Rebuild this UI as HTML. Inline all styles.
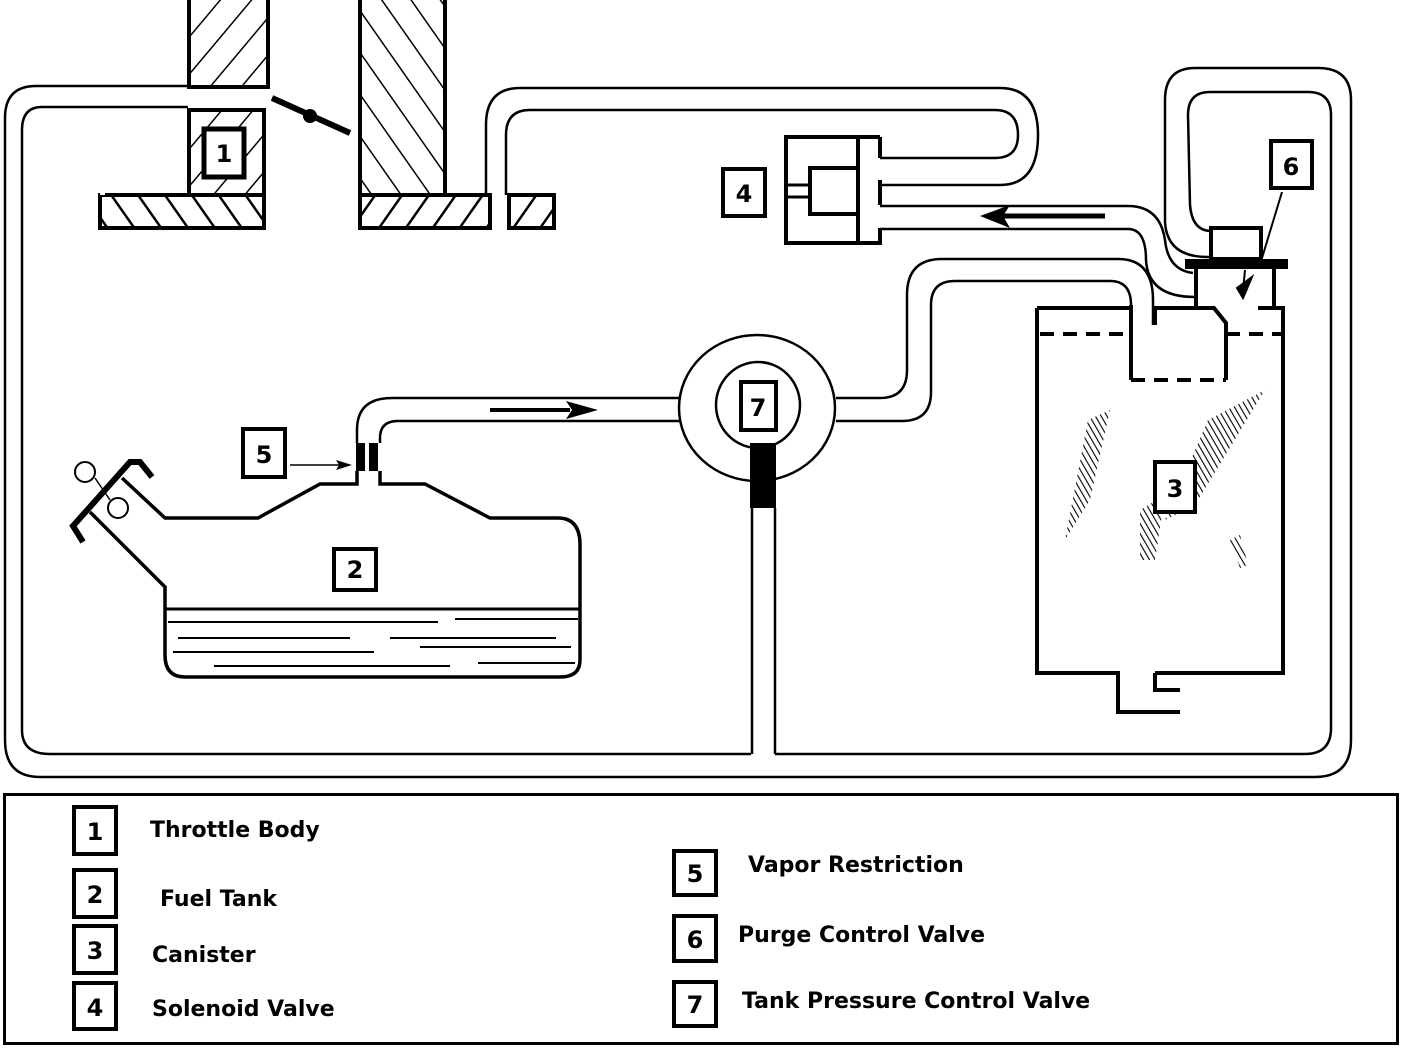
<!DOCTYPE html>
<html><head><meta charset="utf-8"><style>
html,body{margin:0;padding:0;background:#fff;}
svg{display:block;}
text{font-family:"DejaVu Sans","Liberation Sans",sans-serif;font-weight:bold;fill:#000;}
</style></head><body>
<svg width="1408" height="1048" viewBox="0 0 1408 1048" xmlns="http://www.w3.org/2000/svg">
<defs>
<pattern id="hf" patternUnits="userSpaceOnUse" width="24" height="24" patternTransform="rotate(40)">
<line x1="0" y1="0" x2="0" y2="24" stroke="#000" stroke-width="3"/></pattern>
<pattern id="hb" patternUnits="userSpaceOnUse" width="24" height="24" patternTransform="rotate(-35)">
<line x1="0" y1="0" x2="0" y2="24" stroke="#000" stroke-width="3"/></pattern>
<pattern id="hf2" patternUnits="userSpaceOnUse" width="22" height="22" patternTransform="rotate(35)">
<line x1="0" y1="0" x2="0" y2="22" stroke="#000" stroke-width="5"/></pattern>
<pattern id="hb2" patternUnits="userSpaceOnUse" width="22" height="22" patternTransform="rotate(-35)">
<line x1="0" y1="0" x2="0" y2="22" stroke="#000" stroke-width="5"/></pattern>
<pattern id="hc" patternUnits="userSpaceOnUse" width="5" height="5" patternTransform="rotate(-30)">
<line x1="0" y1="0" x2="0" y2="5" stroke="#000" stroke-width="2.2"/></pattern>
</defs>
<g fill="none" stroke="#000" stroke-width="3">
<!-- throttle body -->
<rect x="189" y="-4" width="79" height="91" fill="url(#hf)" stroke-width="4"/>
<rect x="189" y="110" width="75" height="85" fill="url(#hf)" stroke-width="4"/>
<rect x="100" y="195" width="164" height="33" fill="url(#hb2)" stroke-width="4"/>
<rect x="360" y="-4" width="85" height="199" fill="url(#hb)" stroke-width="4"/>
<rect x="360" y="195" width="130" height="33" fill="url(#hf2)" stroke-width="4"/>
<rect x="509" y="195" width="45" height="33" fill="url(#hf2)" stroke-width="4"/>
<rect x="100" y="189" width="5" height="6" fill="#fff" stroke="none"/>
<line x1="272" y1="98" x2="350" y2="133" stroke-width="6"/>
<circle cx="310" cy="116" r="7" fill="#000" stroke="none"/>
<rect x="204" y="129" width="40" height="48" fill="#fff" stroke-width="5"/>

<!-- main loop outer -->
<path d="M188,86 H36 Q5,86 5,118 V740 Q5,777 40,777 H1315 Q1351,777 1351,740 V100 Q1351,68 1318,68 H1195 Q1165,68 1165,100 V222 Q1167,258 1210,257" stroke-width="2.5"/>
<path d="M188,107 H42 Q22,107 22,130 V730 Q22,754 50,754 H751" stroke-width="2.5"/>
<path d="M775,754 H1305 Q1331,754 1331,728 V115 Q1331,92 1308,92 H1210 Q1188,92 1188,115 L1190,205 Q1192,230 1210,231" stroke-width="2.5"/>

<!-- throttle -> solenoid tube -->
<path d="M486,195 V125 Q486,88 520,88 H1000 Q1038,88 1038,135 Q1038,185 1000,185 H880" stroke-width="2.5"/>
<path d="M506,195 V135 Q506,110 530,110 H995 Q1018,110 1018,135 Q1018,158 995,158 H880" stroke-width="2.5"/>

<!-- solenoid valve 4 -->
<path d="M880,137 H786 V243 H880 V228" stroke-width="4"/>
<path d="M880,137 V158 M880,180 V205" stroke-width="4"/>
<line x1="858" y1="137" x2="858" y2="243" stroke-width="4"/>
<rect x="810" y="168" width="48" height="46" stroke-width="4"/>
<path d="M786,185 H810 M786,197 H810" stroke-width="3"/>
<rect x="723" y="169" width="42" height="47" stroke-width="4"/>

<!-- tube 4 -> 6 -->
<path d="M880,206 H1128 Q1160,206 1165,240 Q1168,270 1193,273" stroke-width="2.5"/>
<path d="M880,229 H1128 Q1146,229 1146,260 Q1148,297 1195,297" stroke-width="2.5"/>
<line x1="1105" y1="216" x2="1000" y2="216" stroke-width="5"/>
<path d="M980,216 L1010,205 L1003,216 L1010,228 Z" fill="#000" stroke="none"/>

<!-- valve 6 -->
<rect x="1211" y="228" width="50" height="31" fill="#fff" stroke-width="4"/>
<rect x="1185" y="259" width="103" height="10" fill="#000" stroke="none"/>
<path d="M1196,269 V308 M1274,269 V308" stroke-width="4"/>
<line x1="1282" y1="192" x2="1262" y2="258" stroke-width="2"/>
<path d="M1245,270 L1243,290 M1237,288 L1243,298 L1252,277 Z" fill="#000" stroke-width="2"/>
<rect x="1271" y="141" width="41" height="47" stroke-width="4"/>

<!-- canister 3 -->
<path d="M1131,305 V380 M1037,308 H1131 M1037,308 V673 H1118 V712 H1180 M1155,673 V690 H1180 M1155,673 H1283 V308 H1258 M1155,325 V308 H1214 L1226,323 V380" stroke-width="4"/>
<path d="M1040,334 H1128 M1226,334 H1282 M1131,380 H1226" stroke-width="4" stroke-dasharray="14,9"/>
<polygon points="1088,420 1110,410 1090,500 1065,540" fill="url(#hc)" stroke="none"/>
<polygon points="1208,420 1265,390 1195,505 1165,520" fill="url(#hc)" stroke="none"/>
<polygon points="1140,510 1165,495 1155,560 1140,560" fill="url(#hc)" stroke="none"/>
<polygon points="1230,540 1240,535 1248,565 1240,568" fill="url(#hc)" stroke="none"/>
<rect x="1155" y="462" width="40" height="50" fill="#fff" stroke-width="4"/>

<!-- tube 7 -> canister -->
<path d="M836,398 H880 Q907,398 907,370 V295 Q907,259 942,259 H1118 Q1153,259 1153,300 V325" stroke-width="2.5"/>
<path d="M836,421 H902 Q931,421 931,392 V305 Q931,281 955,281 H1110 Q1131,281 1131,305" stroke-width="2.5"/>

<!-- valve 7 -->
<ellipse cx="757" cy="408" rx="78" ry="73" fill="#fff" stroke-width="2.5"/>
<ellipse cx="758" cy="405" rx="42" ry="43" stroke-width="2.5"/>
<rect x="741" y="382" width="35" height="48" fill="#fff" stroke-width="4"/>
<rect x="750" y="443" width="26" height="65" fill="#000" stroke="none"/>
<path d="M752,508 V754 M775,508 V754" stroke-width="2.5"/>

<!-- tube 5 -> 7 -->
<path d="M357,443 V430 Q357,398 392,398 H680" stroke-width="2.5"/>
<path d="M380,443 V438 Q380,421 398,421 H680" stroke-width="2.5"/>
<line x1="490" y1="410" x2="570" y2="410" stroke-width="4"/>
<path d="M598,410 L566,401 L572,410 L566,419 Z" fill="#000" stroke="none"/>
<rect x="356" y="443" width="9" height="28" fill="#000" stroke="none"/>
<rect x="369" y="443" width="9" height="28" fill="#000" stroke="none"/>
<rect x="243" y="429" width="42" height="48" stroke-width="4"/>
<line x1="290" y1="465" x2="340" y2="465" stroke-width="1.5"/>
<path d="M352,465 L336,460 L339,465 L336,470 Z" fill="#000" stroke="none"/>

<!-- fuel tank 2 -->
<path d="M357,471 V484 H320 L258,518 H165 L122,478" stroke-width="3.5"/>
<path d="M380,471 V484 H425 L490,518 H558 Q580,518 580,545 V660 Q580,677 560,677 H185 Q165,677 165,655 V587 L90,512" stroke-width="3.5"/>
<line x1="165" y1="609" x2="580" y2="609" stroke-width="3"/>
<g stroke-width="2">
<line x1="168" y1="622" x2="438" y2="622"/><line x1="455" y1="619" x2="578" y2="619"/>
<line x1="178" y1="638" x2="350" y2="638"/><line x1="390" y1="638" x2="556" y2="638"/>
<line x1="420" y1="647" x2="571" y2="647"/>
<line x1="173" y1="652" x2="374" y2="652"/>
<line x1="214" y1="666" x2="450" y2="666"/><line x1="478" y1="663" x2="575" y2="663"/>
</g>
<path d="M83,542 L73,526 L130,462 H140 L152,477" stroke-width="6"/>
<circle cx="85" cy="472" r="10" stroke-width="2"/>
<circle cx="118" cy="508" r="10" stroke-width="2"/>
<path d="M95,478 L110,500" stroke-width="1.5"/>
<rect x="334" y="549" width="42" height="41" stroke-width="4"/>
</g>

<!-- diagram labels -->
<g font-size="24" text-anchor="middle">
<text x="224" y="162">1</text>
<text x="744" y="202">4</text>
<text x="1291" y="175">6</text>
<text x="758" y="416">7</text>
<text x="264" y="463">5</text>
<text x="355" y="578">2</text>
<text x="1175" y="497">3</text>
</g>

<!-- legend -->
<rect x="4.5" y="794.5" width="1393" height="249" fill="none" stroke="#000" stroke-width="3"/>
<g fill="none" stroke="#000" stroke-width="4">
<rect x="74" y="807" width="42" height="47"/>
<rect x="74" y="870" width="42" height="47"/>
<rect x="74" y="926" width="42" height="47"/>
<rect x="74" y="983" width="42" height="46"/>
<rect x="674" y="851" width="42" height="44"/>
<rect x="674" y="916" width="42" height="45"/>
<rect x="674" y="982" width="42" height="44"/>
</g>
<g font-size="24" text-anchor="middle">
<text x="95" y="840">1</text><text x="95" y="903">2</text><text x="95" y="959">3</text><text x="95" y="1016">4</text>
<text x="695" y="882">5</text><text x="695" y="948">6</text><text x="695" y="1013">7</text>
</g>
<g font-size="22">
<text x="150" y="837">Throttle Body</text>
<text x="160" y="906">Fuel Tank</text>
<text x="152" y="962">Canister</text>
<text x="152" y="1016">Solenoid Valve</text>
<text x="748" y="872">Vapor Restriction</text>
<text x="738" y="942">Purge Control Valve</text>
<text x="742" y="1008">Tank Pressure Control Valve</text>
</g>
</svg>
</body></html>
